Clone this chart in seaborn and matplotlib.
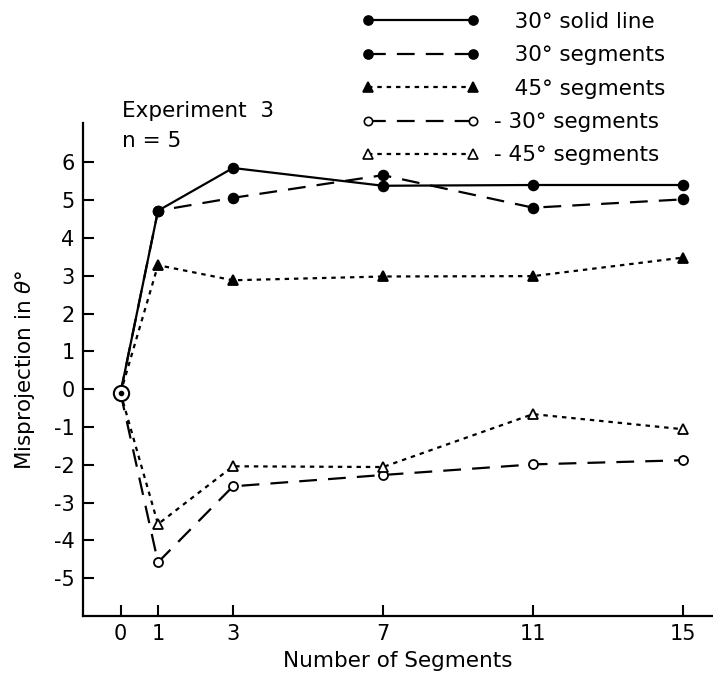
import matplotlib
matplotlib.use("Agg")
import matplotlib.pyplot as plt
import seaborn as sns
import pandas as pd
from matplotlib.lines import Line2D

# ---- data ----
segments = [0, 1, 3, 7, 11, 15]
x_ticks = [0, 1, 3, 7, 11, 15]
y_ticks = [-5, -4, -3, -2, -1, 0, 1, 2, 3, 4, 5, 6]
solid_30 = [-0.1, 4.72, 5.85, 5.38, 5.40, 5.40]
seg_30 = [-0.1, 4.72, 5.06, 5.66, 4.80, 5.02]
seg_45 = [-0.1, 3.28, 2.88, 2.98, 2.99, 3.48]
seg_m30 = [-0.1, -4.58, -2.57, -2.27, -1.99, -1.88]
seg_m45 = [-0.1, -3.57, -2.04, -2.06, -0.66, -1.06]
labels = ["   30\u00b0 solid line", "   30\u00b0 segments", "   45\u00b0 segments",
          "- 30\u00b0 segments", "- 45\u00b0 segments"]

sns.set_style("ticks")
plt.rcParams['font.family'] = ['DejaVu Sans']
plt.rcParams['text.color'] = 'black'
plt.rcParams['axes.labelcolor'] = 'black'

fig = plt.figure(figsize=(7.13, 6.73), dpi=100)
ax = fig.add_axes([83/713, 57/673, 630/713, 493/673])

lw = 1.6
styles = [
    dict(y=solid_30, ls='-', marker='o', mfc='black', ms=7),
    dict(y=seg_30, ls=(0, (8, 5)), marker='o', mfc='black', ms=7),
    dict(y=seg_45, ls=(0, (2, 2.2)), marker='^', mfc='black', ms=7.5),
    dict(y=seg_m30, ls=(0, (8, 5)), marker='o', mfc='white', ms=6.5),
    dict(y=seg_m45, ls=(0, (2, 2.2)), marker='^', mfc='white', ms=7.5),
]
handles = []
for st, lab in zip(styles, labels):
    df = pd.DataFrame({"n": segments, "v": st["y"]})
    sns.lineplot(data=df, x="n", y="v", ax=ax, color='black', linestyle=st['ls'],
                 linewidth=lw, marker=st['marker'], markersize=st['ms'],
                 markerfacecolor=st['mfc'], markeredgecolor='black',
                 markeredgewidth=1.3, markevery=list(range(1, len(segments))))
    handles.append(Line2D([], [], color='black', linestyle=st['ls'], linewidth=lw,
                          marker=st['marker'], markersize=st['ms'] - 0.5,
                          markerfacecolor=st['mfc'], markeredgecolor='black',
                          markeredgewidth=1.2))

# common origin point
ax.plot([segments[0]], [solid_30[0]], marker='o', ms=11, mfc='white', mec='black', mew=1.5, zorder=5)
ax.plot([segments[0]], [solid_30[0]], marker='o', ms=3, mfc='black', mec='black', zorder=6)

ax.set_xlim(-1, 15.8)
ax.set_ylim(-6, 7.04)
ax.set_xticks(x_ticks)
ax.set_xticklabels([str(t) for t in x_ticks])
ax.set_yticks(y_ticks)
ax.set_yticklabels([str(t) for t in y_ticks])
ax.tick_params(axis='both', direction='in', length=8, width=1.5, labelsize=15,
               colors='black', labelcolor='black')
ax.tick_params(axis='y', pad=6)
ax.tick_params(axis='x', pad=6)
for s in ['top', 'right']:
    ax.spines[s].set_visible(False)
for s in ['left', 'bottom']:
    ax.spines[s].set_linewidth(1.6)
    ax.spines[s].set_color('black')

ax.set_xlabel("Number of Segments", fontsize=15.5, labelpad=5)
ax.set_ylabel("Misprojection in $\\theta$\u00b0", fontsize=15.5, labelpad=12)

fig.text(122/713, 1 - 117/673, "Experiment  3", fontsize=15.5, ha='left', va='baseline')
fig.text(122/713, 1 - 147/673, "n = 5", fontsize=15.5, ha='left', va='baseline')

fig.legend(handles=handles, labels=labels, loc='upper left',
           bbox_to_anchor=(362/713, 1 - 12/673), bbox_transform=fig.transFigure,
           frameon=False, fontsize=15.5, numpoints=2, handlelength=5.45,
           handletextpad=0.7, labelspacing=0.62, borderpad=0, borderaxespad=0)

fig.savefig("out.png", dpi=100)
